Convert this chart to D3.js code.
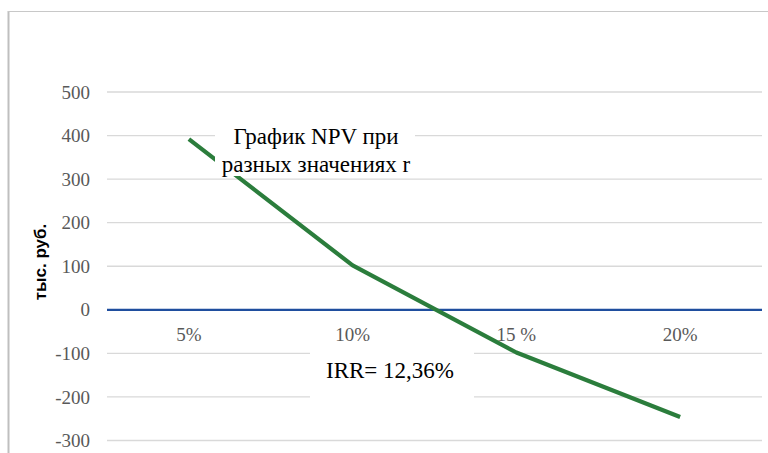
<!DOCTYPE html>
<html>
<head>
<meta charset="utf-8">
<script src="https://cdn.jsdelivr.net/npm/d3@7"></script>
<style>
  body { margin: 0; background: #fff; }
  svg { display: block; }
</style>
</head>
<body>
<div id="chart-area"></div>
<script>
// Data
var rates = ["5%", "10%", "15 %", "20%"];
var npv = [392, 102, -98, -246];
var yTicks = [-300, -200, -100, 0, 100, 200, 300, 400, 500];

var width = 768;
var height = 453;
var serif = "'Liberation Serif'";
var sans = "'Liberation Sans'";

var svg = d3.select("#chart-area").append("svg")
  .attr("width", width)
  .attr("height", height);

// chart border (only left and top visible)
svg.append("line")
  .attr("x1", 8.5).attr("x2", 8.5)
  .attr("y1", 11).attr("y2", height)
  .attr("stroke", "#bfbfbf").attr("stroke-width", 2);
svg.append("line")
  .attr("x1", 8).attr("x2", width)
  .attr("y1", 11.5).attr("y2", 11.5)
  .attr("stroke", "#c8c8c8").attr("stroke-width", 1);

// Scales
var x = d3.scaleBand()
  .domain(rates)
  .range([107, 762]);

var y = d3.scaleLinear()
  .domain([-300, 500])
  .range([440.5, 92]);

// gridlines
svg.append("g")
  .selectAll("line")
  .data(yTicks.filter(function(d){ return d != 0; }))
  .enter()
  .append("line")
  .attr("x1", 107).attr("x2", 762)
  .attr("y1", function(d){ return y(d); })
  .attr("y2", function(d){ return y(d); })
  .attr("stroke", "#d9d9d9")
  .attr("stroke-width", 1.3);

// y axis labels
var yAxis = d3.axisLeft(y)
  .tickValues(yTicks)
  .tickFormat(function(d){ return String(d); })
  .tickSize(0)
  .tickPadding(0);
var yG = svg.append("g")
  .attr("transform", "translate(90,0)")
  .call(yAxis);
yG.select(".domain").remove();
yG.selectAll("text")
  .attr("fill", "#595959")
  .style("font-family", serif)
  .style("font-size", "19px");

// zero line
svg.append("line")
  .attr("x1", 107).attr("x2", 762)
  .attr("y1", y(0)).attr("y2", y(0))
  .attr("stroke", "#1f4e9e")
  .attr("stroke-width", 2.2);

// x labels
svg.append("g")
  .selectAll("text")
  .data(rates)
  .enter()
  .append("text")
  .attr("x", function(d){ return x(d) + x.bandwidth() / 2; })
  .attr("y", y(0) + 31)
  .attr("text-anchor", "middle")
  .attr("fill", "#595959")
  .style("font-family", serif)
  .style("font-size", "19px")
  .text(function(d){ return d; });

// NPV line
var line = d3.line()
  .x(function(d, i){ return x(rates[i]) + x.bandwidth() / 2; })
  .y(function(d){ return y(d); });

svg.append("path")
  .datum(npv)
  .attr("d", line)
  .attr("fill", "none")
  .attr("stroke", "#2b7d3c")
  .attr("stroke-width", 4.2)
  .attr("stroke-linejoin", "round");

// y axis title
svg.append("text")
  .attr("transform", "translate(46,262) rotate(-90)")
  .attr("text-anchor", "middle")
  .style("font-family", sans)
  .style("font-weight", "bold")
  .style("font-size", "17px")
  .attr("fill", "#000")
  .text("тыс. руб.");

// title box
svg.append("rect")
  .attr("x", 215).attr("y", 118)
  .attr("width", 200).attr("height", 58)
  .attr("fill", "#fff");
var title = svg.append("text")
  .attr("text-anchor", "middle")
  .style("font-family", serif)
  .style("font-size", "23px")
  .attr("fill", "#000");
title.append("tspan").attr("x", 316).attr("y", 144).text("График NPV при");
title.append("tspan").attr("x", 316).attr("y", 172).text("разных значениях r");

// IRR label
svg.append("rect")
  .attr("x", 310).attr("y", 346)
  .attr("width", 164).attr("height", 58)
  .attr("fill", "#fff");
svg.append("text")
  .attr("x", 390).attr("y", 378)
  .attr("text-anchor", "middle")
  .style("font-family", serif)
  .style("font-size", "23px")
  .attr("fill", "#000")
  .text("IRR= 12,36%");
</script>
</body>
</html>
